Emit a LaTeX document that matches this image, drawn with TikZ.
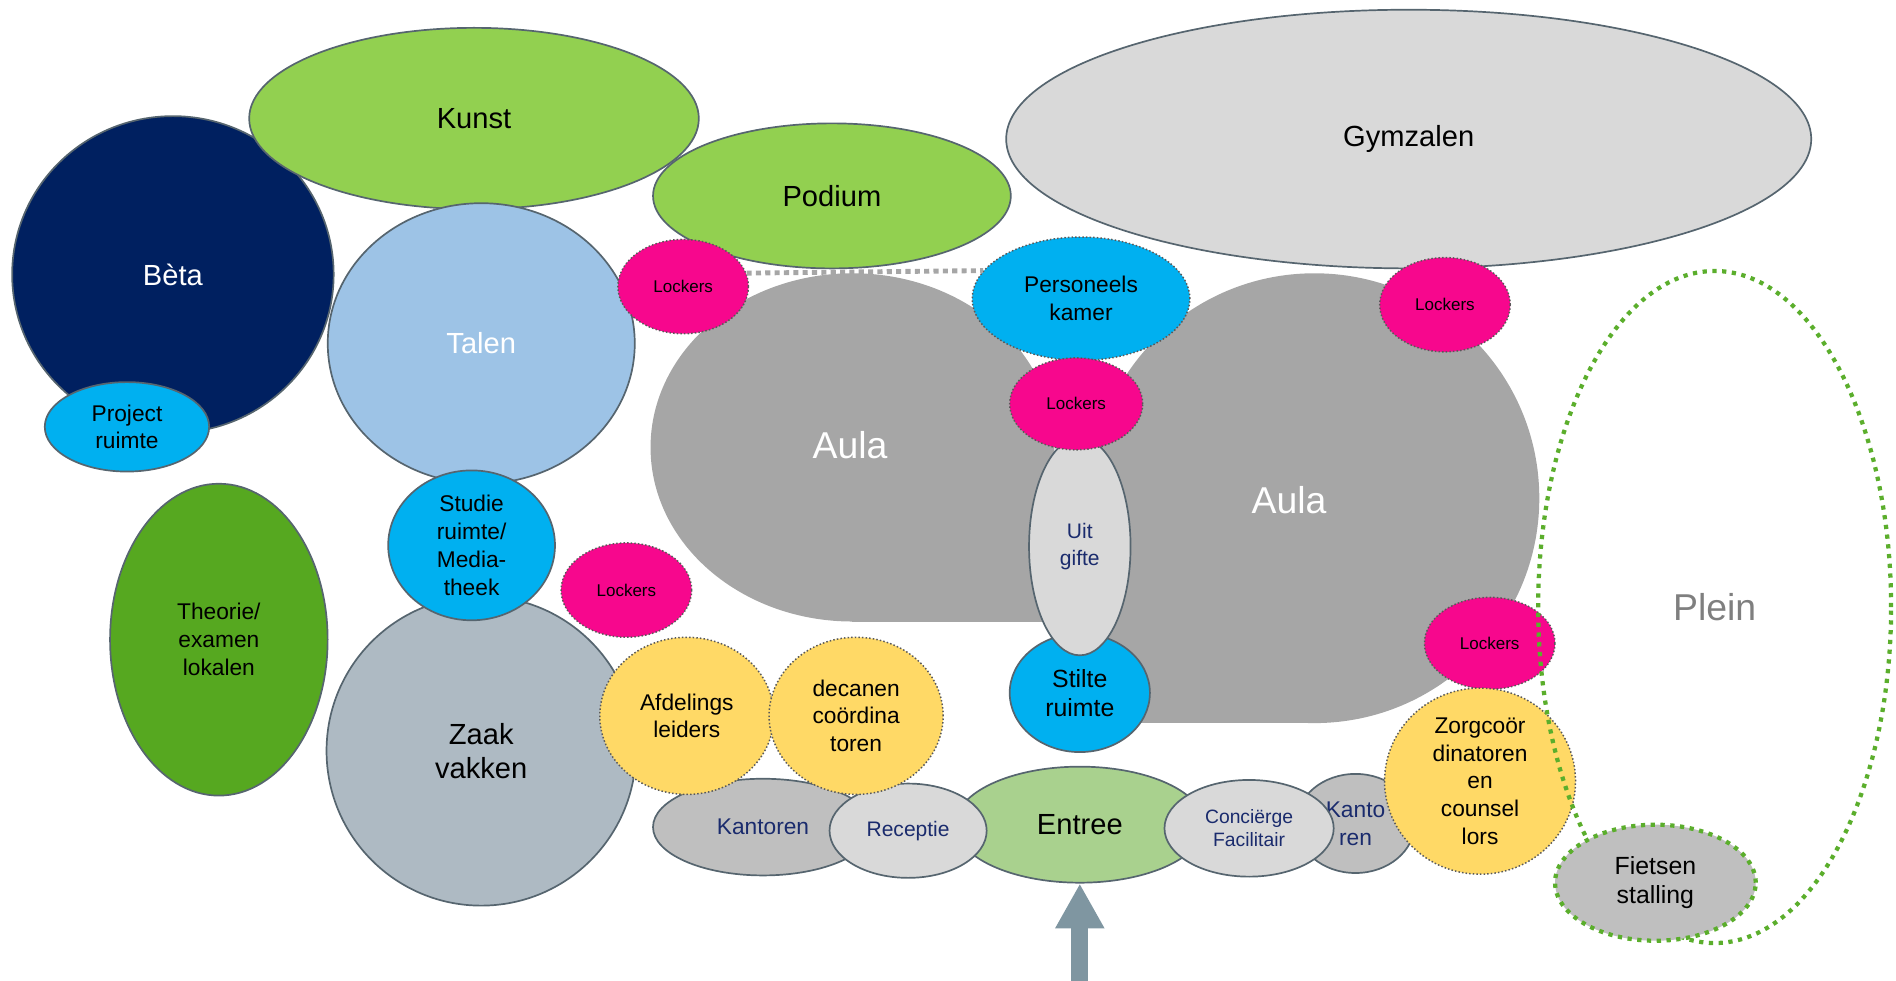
\documentclass[tikz,border=0pt]{standalone}
\usepackage{fontspec}
\setmainfont{Liberation Sans}
\usetikzlibrary{shapes.geometric,arrows.meta}

\definecolor{betablue}{HTML}{002060}
\definecolor{lightgreen}{HTML}{92D050}
\definecolor{talenblue}{HTML}{9DC3E6}
\definecolor{cyanblue}{HTML}{00B0F0}
\definecolor{lightgray}{HTML}{D9D9D9}
\definecolor{midgray}{HTML}{BFBFBF}
\definecolor{aulagray}{HTML}{A6A6A6}
\definecolor{lockerpink}{HTML}{F7078D}
\definecolor{theoriegreen}{HTML}{56A820}
\definecolor{zaakgray}{HTML}{AEBAC3}
\definecolor{staffyellow}{HTML}{FFD966}
\definecolor{entreegreen}{HTML}{A9D18E}
\definecolor{edgegray}{HTML}{56656F}
\definecolor{dotgray}{HTML}{595959}
\definecolor{pleingreen}{HTML}{5BAE2C}
\definecolor{navytext}{HTML}{1A2B6D}
\definecolor{arrowgray}{HTML}{7F96A1}
\definecolor{pleintext}{HTML}{7F7F7F}

\tikzset{
  room/.style={ellipse, draw=edgegray, line width=0.8pt, inner sep=0pt, align=center},
  dotroom/.style={ellipse, draw=dotgray, densely dotted, line width=0.7pt, inner sep=0pt, align=center},
  rad/.style 2 args={minimum width=#1*0.04cm, minimum height=#2*0.04cm},
  fhuge/.style={font=\fontsize{17.6}{20}\selectfont},
  fbig/.style={font=\fontsize{13.7}{16}\selectfont},
  fstil/.style={font=\fontsize{11.7}{13.6}\selectfont},
  fmid/.style={font=\fontsize{10.7}{13.1}\selectfont},
  fsmall/.style={font=\fontsize{9.9}{12.5}\selectfont},
  ftiny/.style={font=\fontsize{9.1}{10.8}\selectfont},
  locker/.style={dotroom, fill=lockerpink, rad={54}{39}, font=\fontsize{8}{9.6}\selectfont},
  staff/.style={dotroom, fill=staffyellow, fmid},
  greendots/.style={draw=pleingreen, line width=2pt, dash pattern=on 2pt off 2.6pt},
}

\begin{document}
\begin{tikzpicture}[x=0.02cm, y=-0.02cm]
  \useasboundingbox (0, 0) rectangle (1568, 811);
  % Aula
  \fill[aulagray] (705, 370) ellipse [x radius=167, y radius=144];
  \fill[aulagray] (705, 370) rectangle (872, 514);
  \fill[aulagray] (1087, 412) ellipse [x radius=186, y radius=186];
  \fill[aulagray] (901, 412) rectangle (1087, 598);
  \node (aulaL) [fhuge, text=white] at (703, 368) {Aula};
  \node (aulaR) [fhuge, text=white] at (1066, 414) {Aula};
  % Nodes
  \node (beta) [room, fill=betablue, rad={133}{131}, fbig, text=white] at (143, 227) {Bèta};
  \node (kunst) [room, fill=lightgreen, rad={186}{75}, fbig] at (392, 98) {Kunst};
  \node (gym) [room, fill=lightgray, rad={333}{107}, fbig] at (1165, 115) {Gymzalen};
  \node (podium) [room, fill=lightgreen, rad={148}{60}, fbig] at (688, 162) {Podium};
  \node (talen) [room, fill=talenblue, rad={127}{116}, fbig, text=white] at (398, 284) {Talen};
  \node (project) [room, fill=cyanblue, rad={68}{37}, fmid] at (105, 353) {Project\\ruimte};
  \node (theorie) [room, fill=theoriegreen, rad={90}{129}, fmid] at (181, 529) {Theorie/\\examen\\lokalen};
  \node (zaak) [room, fill=zaakgray, rad={128}{128}, fbig] at (398, 621) {Zaak\\vakken};
  \node (studie) [room, fill=cyanblue, rad={69}{62}, fmid] at (390, 451) {Studie\\ruimte/\\Media-\\theek};
  \node (lockA) [locker] at (565, 237) {Lockers};
  \node (pers) [dotroom, fill=cyanblue, rad={90}{51}, fmid] at (894, 247) {Personeels\\kamer};
  \node (lockC) [locker] at (1195, 252) {Lockers};
  \node (lockD) [locker] at (518, 488) {Lockers};
  \node (stilte) [room, fill=cyanblue, rad={58}{49}, fstil] at (893, 573) {Stilte\\ruimte};
  \node (uitgifte) [room, fill=lightgray, rad={42}{90}, fsmall, text=navytext] at (893, 452) {Uit\\gifte};
  \node (lockB) [locker, rad={55}{38}] at (890, 334) {Lockers};
  \node (lockE) [locker, rad={54}{38}] at (1232, 532) {Lockers};
  % Front desk row
  \node (kantA) [room, fill=midgray, rad={91}{40}, fmid, text=navytext] at (631, 684) {Kantoren};
  \node (entree) [room, fill=entreegreen, rad={103}{48}, fbig] at (893, 682) {Entree};
  \node (receptie) [room, fill=lightgray, rad={65}{39}, fsmall, text=navytext] at (751, 687) {Receptie};
  \node (kantB) [room, fill=midgray, rad={49}{41}, fmid, text=navytext] at (1121, 681) {Kanto\\ren};
  \node (concierge) [room, fill=lightgray, rad={70}{40}, ftiny, text=navytext] at (1033, 685) {Conciërge\\Facilitair};
  \node (afdeling) [staff, rad={72}{65}] at (568, 592) {Afdelings\\leiders};
  \node (decanen) [staff, rad={72}{65}] at (708, 592) {decanen\\coördina\\toren};
  \node (zorg) [staff, rad={79}{77}] at (1224, 646) {Zorgcoör\\dinatoren\\en\\counsel\\lors};
  % Plein
  \node (plein) [ellipse, greendots, rad={146}{278}, fhuge, text=pleintext] at (1418, 502) {Plein};
  \node (fiets) [ellipse, greendots, fill=midgray, rad={83}{48}, fstil, align=center] at (1369, 730) {Fietsen\\stalling};
  % Links
  \draw[aulagray, line width=2.3pt, dash pattern=on 2.4pt off 2pt] (lockA.12) -- (pers.164);
  % Arrow
  \coordinate (gate) at (893, 811);
  \draw[arrowgray, line width=8pt, -{Triangle[width=0.76cm, length=0.74cm]}] (gate) -- (entree.south);
\end{tikzpicture}
\end{document}
